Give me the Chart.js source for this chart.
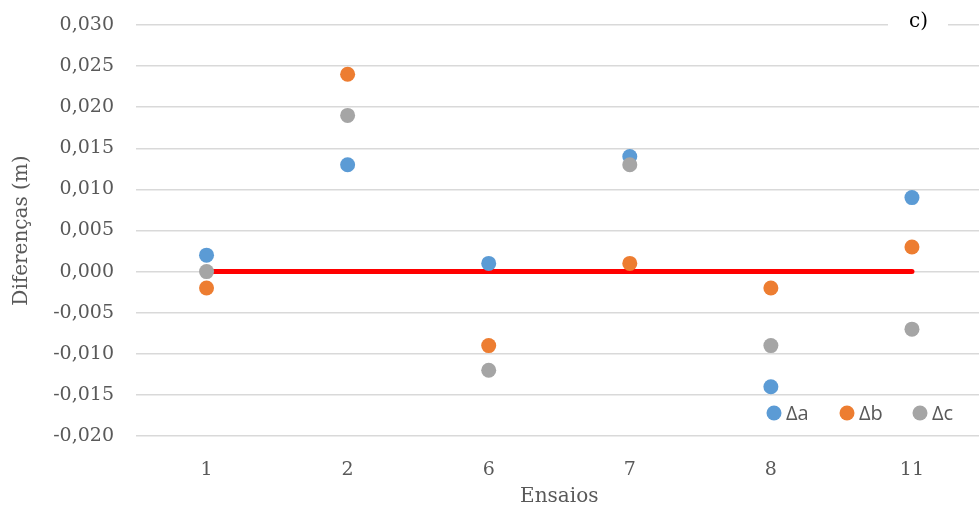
<!DOCTYPE html>
<html>
<head>
<meta charset="utf-8">
<script src="https://cdn.jsdelivr.net/npm/chart.js"></script>
<style>
  html, body { margin: 0; padding: 0; background: #fff; overflow: hidden; }
  canvas { display: block; }
</style>
</head>
<body>
<canvas id="myChart" width="990" height="513"></canvas>
<script>
const ensaios = ['1', '2', '6', '7', '8', '11'];
const deltaA = [0.002, 0.013, 0.001, 0.014, -0.014, 0.009];
const deltaB = [-0.002, 0.024, -0.009, 0.001, -0.002, 0.003];
const deltaC = [0.000, 0.019, -0.012, 0.013, -0.009, -0.007];
const zeroLine = [0, 0, 0, 0, 0, 0];
const seriesNames = ['Δa', 'Δb', 'Δc'];
const seriesColors = ['#5B9BD5', '#ED7D31', '#A5A5A5'];

const serif = "'DejaVu Serif', 'Liberation Serif', serif";
const txt = '#595959';

// legend in the lower right of the plot + the "c)" tag
const extras = {
    id: 'extras',
    afterDraw(chart) {
        const c = chart.ctx;
        c.save();
        // c) label, white box over the top gridline
        c.fillStyle = '#fff';
        c.fillRect(888, 8, 60, 30);
        c.fillStyle = '#000';
        c.font = "20px " + serif;
        c.textBaseline = 'middle';
        c.fillText('c)', 909, 22);
        // legend
        c.font = "20px 'Open Sans', 'Noto Sans', sans-serif";
        let x = 774;
        const y = 413;
        seriesNames.forEach((name, i) => {
            c.fillStyle = seriesColors[i];
            c.beginPath();
            c.arc(x, y, 7.5, 0, Math.PI * 2);
            c.fill();
            c.fillStyle = txt;
            c.fillText(name, x + 12, y + 1);
            x += 73;
        });
        c.restore();
    }
};

new Chart(document.getElementById('myChart'), {
    type: 'line',
    data: {
        labels: ensaios,
        datasets: [
            {
                label: 'zero',
                data: zeroLine,
                borderColor: '#FF0000',
                borderWidth: 5,
                borderCapStyle: 'round',
                pointRadius: 0,
                order: 4
            },
            {
                label: seriesNames[0],
                data: deltaA,
                showLine: false,
                pointRadius: 7.5,
                pointBackgroundColor: seriesColors[0],
                pointBorderWidth: 0,
                order: 3
            },
            {
                label: seriesNames[1],
                data: deltaB,
                showLine: false,
                pointRadius: 7.5,
                pointBackgroundColor: seriesColors[1],
                pointBorderWidth: 0,
                order: 2
            },
            {
                label: seriesNames[2],
                data: deltaC,
                showLine: false,
                pointRadius: 7.5,
                pointBackgroundColor: seriesColors[2],
                pointBorderWidth: 0,
                order: 1
            }
        ]
    },
    options: {
        responsive: false,
        animation: false,
        layout: { padding: { top: 25, right: 0, left: 0, bottom: 0 } },
        plugins: {
            legend: { display: false },
            tooltip: { enabled: false }
        },
        scales: {
            x: {
                offset: true,
                grid: { display: false, drawTicks: true, tickLength: 20 },
                border: { display: false },
                ticks: { color: txt, font: { family: serif, size: 19 }, padding: 3 },
                title: { display: true, text: 'Ensaios', color: txt, font: { family: serif, size: 20 }, padding: { top: 7 } },
                afterFit: (s) => { s.height = 77; }
            },
            y: {
                min: -0.02,
                max: 0.03,
                grid: { color: '#D9D9D9', lineWidth: 1.5, drawTicks: true, tickLength: 20, tickColor: 'rgba(0,0,0,0)' },
                border: { display: false },
                ticks: {
                    stepSize: 0.005,
                    color: txt,
                    font: { family: serif, size: 19 },
                    padding: 2,
                    callback: (v) => v.toFixed(3).replace('.', ',')
                },
                title: { display: true, text: 'Diferenças (m)', color: txt, font: { family: serif, size: 20 }, padding: { top: 10, bottom: 4 } },
                afterFit: (s) => { s.width = 136; }
            }
        }
    },
    plugins: [extras]
});
</script>
</body>
</html>
